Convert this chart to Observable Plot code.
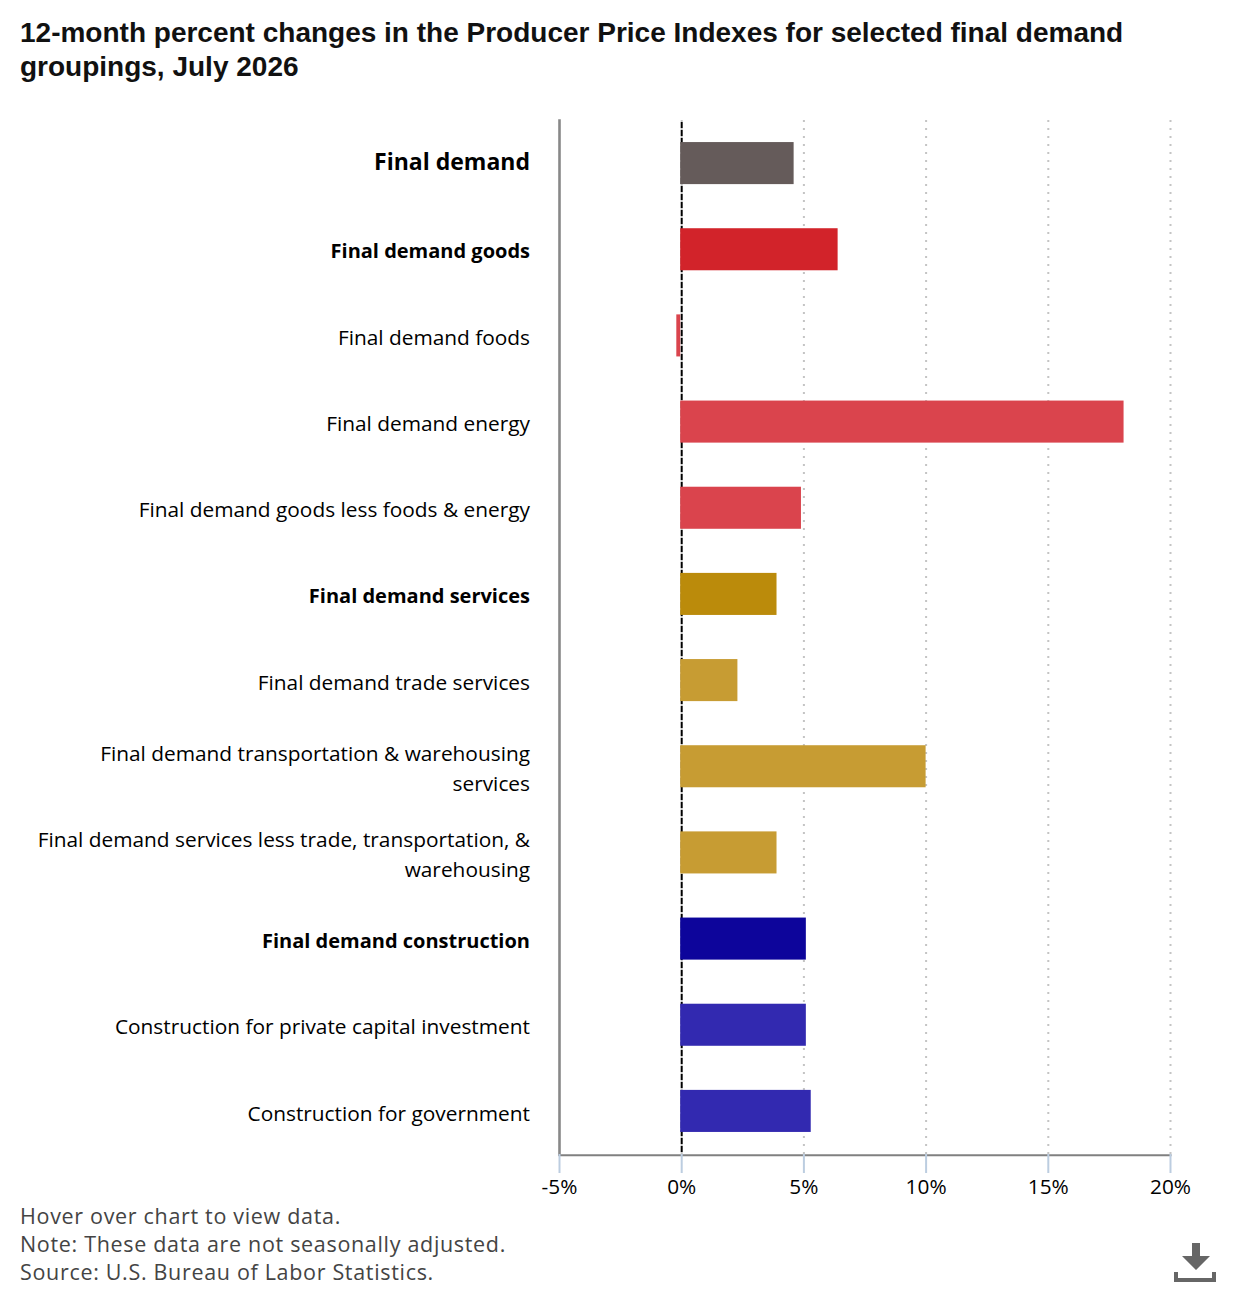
<!DOCTYPE html>
<html><head><meta charset="utf-8">
<script src="https://cdn.jsdelivr.net/npm/d3@7"></script>
<script src="https://cdn.jsdelivr.net/npm/@observablehq/plot@0.6"></script>
<style>
html,body{margin:0;background:#fff}
#page{position:relative;width:1240px;height:1290px;overflow:hidden}
h1{margin:0;padding:16px 100px 0 20px;height:100px;box-sizing:border-box;font:bold 28px/34px "Liberation Sans",Arial,sans-serif;color:#111}
svg{display:block}
#foot{padding-left:20px;font:21.5px/28px "Open Sans",sans-serif;color:#444;letter-spacing:.68px}
#icon{position:absolute;left:1174px;top:1242px}
</style></head><body><div id="page">
<h1>12-month percent changes in the Producer Price Indexes for selected final demand groupings, July 2026</h1>
<div id="chart"></div>
<div id="foot">Hover over chart to view data.<br>Note: These data are not seasonally adjusted.<br>Source: U.S. Bureau of Labor Statistics.</div>
<svg id="icon" width="42" height="42" viewBox="0 0 42 42"><path d="M18 1h8v13h10L22 28 8 14h10z" fill="#666"/><path d="M0 30h4v6h34v-6h4v10H0z" fill="#666"/></svg>
</div>
<script>
const categories=["Final demand","Final demand goods","Final demand foods","Final demand energy","Final demand goods less foods & energy","Final demand services","Final demand trade services","Final demand transportation & warehousing services","Final demand services less trade, transportation, & warehousing","Final demand construction","Construction for private capital investment","Construction for government"];
const values=[4.6,6.4,-0.2,18.1,4.9,3.9,2.3,10.0,3.9,5.1,5.1,5.3];
const colors=["#655b5a","#d2232a","#da444d","#da444d","#da444d","#bb8b0b","#c79c33","#c79c33","#c79c33","#0d059b","#3229b0","#3229b0"];
const wrapped={"Final demand transportation & warehousing services":"Final demand transportation & warehousing\nservices","Final demand services less trade, transportation, & warehousing":"Final demand services less trade, transportation, &\nwarehousing"};
const headline=["Final demand"];
const boldCats=["Final demand goods","Final demand services","Final demand construction"];
const plainCats=categories.filter(c=>!headline.includes(c)&&!boldCats.includes(c));
const xTicks=[-5,0,5,10,15,20];
const gridTicks=[0,5,10,15,20];
const data=categories.map((c,i)=>({c,v:values[i],color:colors[i]}));
const font='"Open Sans",sans-serif';
const fmt=c=>wrapped[c]??c;
const yAxis=(ticks,size,weight,dy)=>Plot.axisY(ticks,{anchor:"left",tickSize:0,tickPadding:29.5,fontSize:size,fontWeight:weight,fontFamily:font,fill:"#000",tickFormat:fmt,label:null,lineHeight:1.44,dy});
document.getElementById("chart").append(Plot.plot({
  width:1240,height:1102,marginLeft:559,marginRight:70,marginTop:20,marginBottom:48,
  style:{background:"transparent",overflow:"visible"},
  x:{domain:[-5,20],label:null},
  y:{domain:categories,paddingInner:0.512,paddingOuter:0.256,round:false,label:null},
  marks:[
    Plot.ruleX(gridTicks,{stroke:"#c4c4c4",strokeWidth:2,strokeDasharray:"2,6"}),
    Plot.ruleX([0],{stroke:"#000",strokeWidth:2,strokeDasharray:"6,2",strokeDashoffset:-2}),
    Plot.frame({anchor:"left",stroke:"#888",strokeWidth:2.6}),
    Plot.frame({anchor:"bottom",stroke:"#808080",strokeWidth:2,dy:0.7}),
    Plot.barX(data.filter(d=>d.v>=0),{x1:0,x2:"v",y:"c",fill:"color",insetLeft:-1}),
    Plot.barX(data.filter(d=>d.v<0),{x1:0,x2:"v",y:"c",fill:"color",insetRight:1}),
    yAxis(headline,23,700,-4),
    yAxis(boldCats,20,700,-0.5),
    yAxis(plainCats,20.85,400,-0.5),
    Plot.axisX(xTicks,{anchor:"bottom",tickSize:19,stroke:"#bccde0",strokeWidth:2,tickPadding:5.5,fontSize:20.8,fontFamily:font,fill:"#000",tickFormat:d=>d+"%",label:null})
  ]
}));
</script></body></html>
